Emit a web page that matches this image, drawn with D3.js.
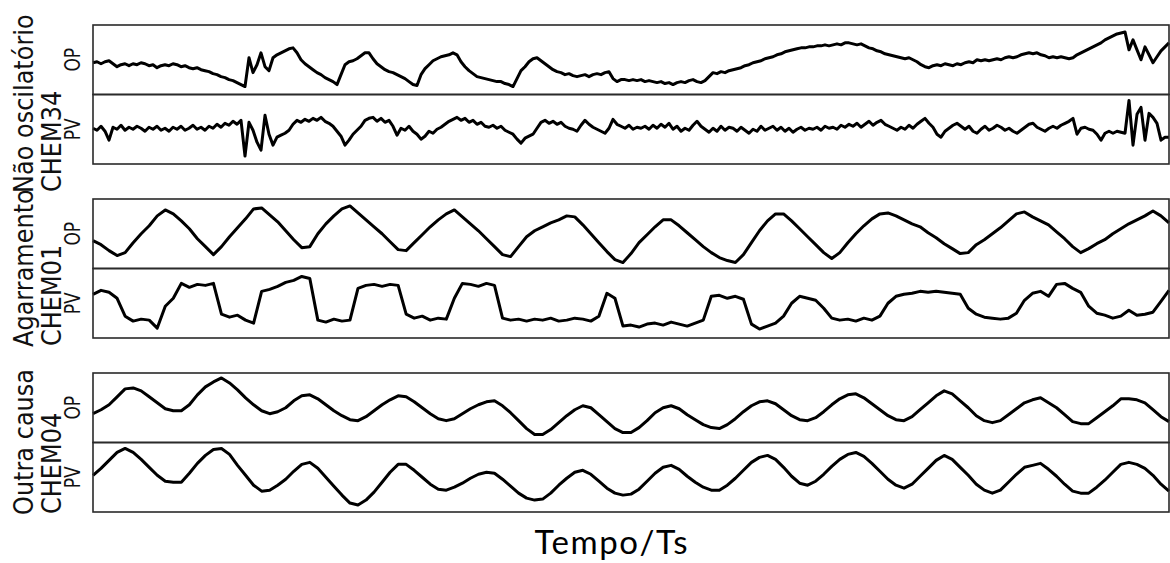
<!DOCTYPE html>
<html><head><meta charset="utf-8">
<script src="https://cdn.jsdelivr.net/npm/d3@7"></script>
<style>body{margin:0;background:#fff}svg{display:block}</style>
</head><body>
<script>
const groupNames = ["Não oscilatório", "Agarramento", "Outra causa"];
const loopNames = ["CHEM34", "CHEM01", "CHEM04"];
const signalNames = ["OP", "PV"];
const xLabel = "Tempo/Ts";

const chem34OP = [32,33,31,33,34,31,28,30,31,29,31,30,32,31,29,30,27,29,30,29,31,30,28,29,27,26,27,25,24,23,21,20,18,17,15,14,12,10,8,37,22,30,42,28,24,37,40,42,44,46,47,42,35,31,28,25,22,20,17,15,13,10,20,30,33,34,36,39,42,42,36,31,28,25,23,22,20,18,16,13,10,9,20,26,30,34,36,38,39,40,42,40,33,28,24,21,18,17,16,15,14,13,13,11,10,8,16,24,28,33,36,37,34,31,28,25,23,22,20,21,19,18,19,20,18,20,21,20,22,23,16,13,15,15,14,15,14,15,13,14,13,12,13,11,12,10,12,13,12,14,15,13,12,14,18,22,21,23,22,24,25,26,27,29,30,32,33,34,36,37,38,40,41,43,44,45,46,47,47,48,48,49,49,50,49,50,51,50,52,52,51,50,51,49,47,46,44,43,41,40,39,38,37,36,37,35,33,30,28,27,29,30,29,31,30,29,31,30,32,33,32,35,34,35,34,35,36,35,37,38,37,38,40,41,42,41,42,40,39,37,38,37,38,37,36,37,40,42,44,46,48,50,52,55,57,59,61,62,63,45,55,45,35,48,40,32,38,44,48,52];
const chem34PV = [36,34,38,33,24,37,35,39,34,37,35,38,36,33,37,35,38,34,36,33,37,35,38,34,36,39,35,37,34,38,36,40,37,41,39,43,40,44,8,42,34,22,14,49,30,19,27,29,31,34,40,44,42,45,43,46,44,47,43,41,38,33,28,19,24,30,34,38,44,46,47,43,46,42,44,38,29,36,34,38,33,30,25,28,33,31,35,37,40,43,45,47,44,46,42,44,40,42,38,37,39,36,38,34,32,30,25,21,26,28,30,36,42,44,41,43,40,42,38,36,35,33,39,44,40,37,35,33,31,36,45,40,38,36,39,35,37,36,38,35,39,36,40,37,41,35,38,33,36,34,39,43,38,35,32,36,33,38,34,37,36,33,37,34,31,35,33,38,34,36,38,34,37,33,36,32,35,37,34,36,35,37,34,38,36,37,35,39,37,40,38,41,37,40,43,39,42,44,40,38,36,34,37,35,39,36,40,43,46,41,37,30,27,33,36,39,41,38,35,38,33,31,35,38,34,36,39,37,34,36,33,31,34,37,40,41,37,35,33,36,38,36,39,41,43,46,30,36,37,35,34,30,24,31,33,31,33,32,31,64,19,50,57,24,51,47,41,24,27,27];
const chem01OP = [28,24,18,13,16,26,35,43,53,59,55,48,40,30,22,14,22,32,41,50,60,61,54,47,38,29,21,22,35,45,53,60,63,56,49,42,35,27,19,18,26,34,42,49,55,59,52,45,38,30,22,14,12,22,32,38,42,46,49,53,52,44,35,26,17,9,6,15,26,34,42,49,49,43,36,29,22,16,11,8,6,14,26,38,48,55,55,48,40,32,24,16,10,16,26,35,43,50,55,56,53,49,45,42,36,31,25,20,15,16,24,29,35,41,48,55,57,52,48,44,37,30,22,16,20,25,29,35,40,45,49,53,58,53,46];
const chem01PV = [44,48,46,40,22,17,19,18,10,32,40,55,51,54,53,55,24,21,23,18,15,47,49,52,56,58,62,60,18,16,19,17,18,50,53,54,52,54,53,24,20,22,18,20,19,40,55,54,52,55,53,20,18,19,17,19,18,20,17,18,20,19,17,22,45,40,12,13,11,14,15,13,16,14,12,15,18,42,43,40,42,39,14,9,12,15,22,35,42,40,38,30,20,18,19,17,20,18,22,35,42,44,45,47,46,47,46,45,44,30,24,21,20,19,20,25,38,45,47,42,54,55,50,46,32,25,23,20,22,28,23,24,26,37,48];
const chem04OP = [29,33,38,46,54,55,52,46,40,34,32,32,38,48,56,61,65,60,53,45,38,32,29,31,35,42,47,48,44,38,32,27,23,22,26,32,38,43,47,46,41,35,29,24,22,24,29,34,38,41,42,37,30,22,14,8,8,13,20,27,33,37,35,28,21,14,10,10,15,22,30,35,37,34,28,23,18,15,14,18,24,31,37,41,42,39,33,27,23,22,25,31,38,44,48,49,45,39,33,27,23,22,26,33,40,47,52,49,42,35,27,22,20,22,28,34,40,43,45,40,35,28,21,19,19,25,31,37,44,44,43,40,33,26,21];
const chem04PV = [37,44,52,60,64,60,53,45,37,31,30,30,39,49,57,63,64,58,47,37,27,21,22,27,33,41,48,50,44,35,26,17,9,7,12,20,30,40,48,48,42,35,28,23,22,25,29,34,38,40,39,33,26,19,14,12,13,19,27,34,40,42,38,31,24,19,17,18,23,31,39,45,47,43,36,30,25,22,22,27,34,42,50,55,57,53,45,36,29,27,31,38,46,53,58,60,56,49,41,33,27,24,28,36,44,52,57,53,45,37,28,22,19,22,30,38,45,47,49,43,36,28,21,19,19,25,32,40,48,50,48,44,37,28,21];

const seriesByGroup = [[chem34OP, chem34PV],[chem01OP, chem01PV],[chem04OP, chem04PV]];

const W = 1170, H = 563;
const plotLeft = 93, plotRight = 1169;
const groupTops = [25, 199, 373];
const panelH = 69.5;

const svg = d3.select("body").append("svg").attr("width", W).attr("height", H)
  .style("font-family", "'DejaVu Sans', sans-serif");
svg.append("rect").attr("width", W).attr("height", H).attr("fill", "#fff");

seriesByGroup.forEach((pair, g) => {
  pair.forEach((data, s) => {
    const top = groupTops[g] + s * panelH;
    const x = d3.scaleLinear().domain([0, data.length - 1]).range([plotLeft, plotRight]);
    const y = d3.scaleLinear().domain([0, 70]).range([top + panelH, top]);
    const line = d3.line().x((d, i) => x(i)).y(d => y(d));
    svg.append("path").datum(data)
      .attr("d", line)
      .attr("fill", "none")
      .attr("stroke", "#000")
      .attr("stroke-width", 3)
      .attr("stroke-linejoin", "round");
    svg.append("rect")
      .attr("x", plotLeft).attr("y", top)
      .attr("width", plotRight - plotLeft).attr("height", panelH)
      .attr("fill", "none").attr("stroke", "#2a2a2a").attr("stroke-width", 1.6);
    svg.append("text")
      .attr("transform", `translate(80,${top + panelH / 2}) rotate(-90) scale(1,1.2)`)
      .attr("text-anchor", "middle")
      .attr("font-size", 17)
      .attr("fill", "#111")
      .text(signalNames[s]);
  });
});

const groupLabelStart = [193, 347, 515];
groupNames.forEach((name, g) => {
  svg.append("text")
    .attr("transform", `translate(33,${groupLabelStart[g]}) rotate(-90) scale(1,1.08)`)
    .attr("text-anchor", "start").attr("font-size", 24).attr("fill", "#111")
    .text(name);
  svg.append("text")
    .attr("transform", `translate(61,${groupLabelStart[g] - 1}) rotate(-90) scale(1,1.12)`)
    .attr("text-anchor", "start").attr("font-size", 24).attr("fill", "#111")
    .text(loopNames[g]);
});

svg.append("text")
  .attr("x", 611).attr("y", 554)
  .attr("text-anchor", "middle")
  .attr("font-family", "Lato, 'Open Sans', sans-serif")
  .attr("font-size", 33)
  .attr("textLength", 153)
  .attr("fill", "#000")
  .text(xLabel);
</script>
</body></html>
